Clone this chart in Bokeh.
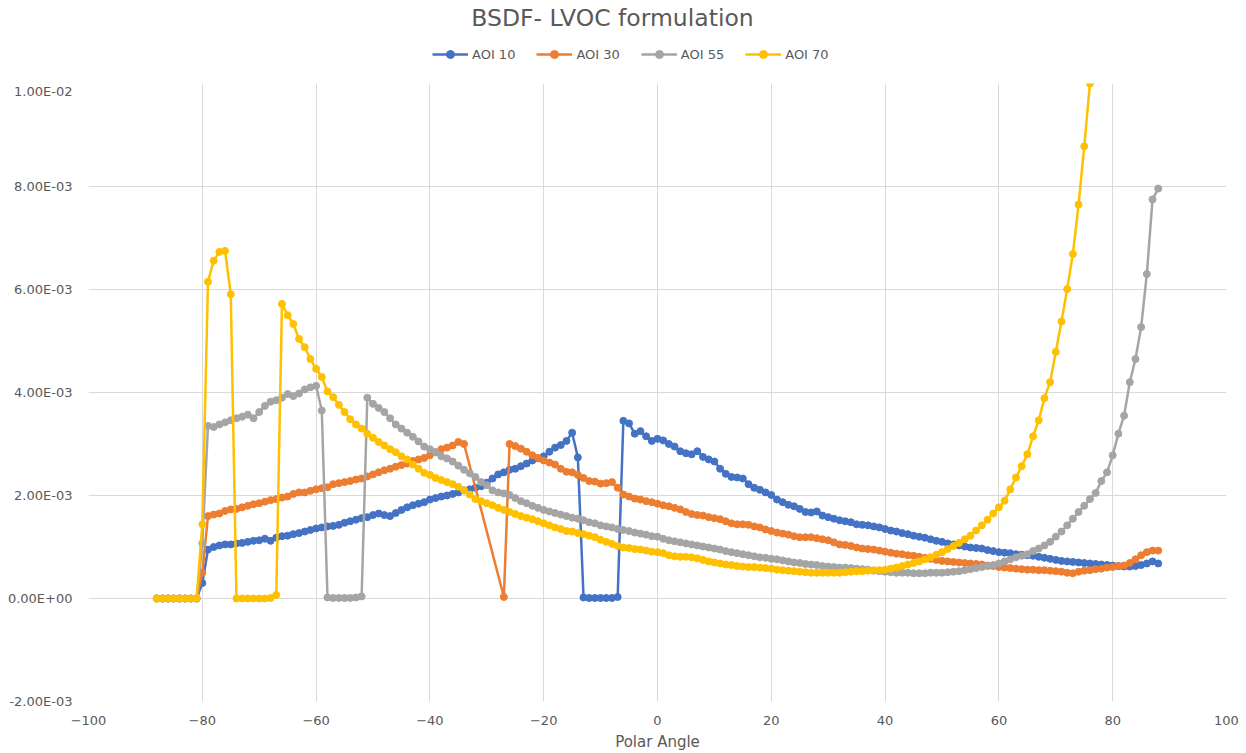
from bokeh.plotting import figure
from bokeh.layouts import column
from bokeh.models import Range1d, FixedTicker, CustomJSTickFormatter, Legend, LegendItem, Label
from bokeh.embed import file_html
from bokeh.resources import INLINE

# ---------------- data (values in units of 1E-03) ----------------
polar_angle = list(range(-88, 89))

aoi_10 = [
    0, 0, 0, 0, 0, 0, 0, 0, 0.30, 0.95,                      # -88..-79
    1.00, 1.03, 1.05, 1.05, 1.07, 1.08, 1.10, 1.12, 1.13, 1.16,  # -78..-69
    1.12, 1.18, 1.21, 1.22, 1.25, 1.27, 1.30, 1.33, 1.36, 1.38,  # -68..-59
    1.40, 1.41, 1.43, 1.47, 1.50, 1.53, 1.56, 1.58, 1.62, 1.65,  # -58..-49
    1.62, 1.60, 1.66, 1.72, 1.77, 1.81, 1.84, 1.87, 1.92, 1.95,  # -48..-39
    1.98, 2.00, 2.03, 2.06, 2.10, 2.12, 2.15, 2.18, 2.25, 2.33,  # -38..-29
    2.41, 2.45, 2.50, 2.52, 2.57, 2.62, 2.68, 2.72, 2.76, 2.85,  # -28..-19
    2.93, 2.98, 3.06, 3.22, 2.74, 0.02, 0.01, 0.01, 0.01, 0.01,  # -18..-9
    0.01, 0.03, 3.45, 3.40, 3.20, 3.25, 3.15, 3.06, 3.10, 3.07,  # -8..1
    3.00, 2.95, 2.86, 2.82, 2.80, 2.86, 2.75, 2.70, 2.66, 2.52,  # 2..11
    2.42, 2.36, 2.35, 2.33, 2.22, 2.15, 2.11, 2.06, 2.01, 1.92,  # 12..21
    1.87, 1.82, 1.79, 1.74, 1.68, 1.67, 1.69, 1.61, 1.58, 1.55,  # 22..31
    1.52, 1.50, 1.48, 1.44, 1.43, 1.42, 1.40, 1.38, 1.35, 1.32,  # 32..41
    1.30, 1.27, 1.25, 1.22, 1.20, 1.18, 1.15, 1.12, 1.10, 1.07,  # 42..51
    1.05, 1.03, 1.01, 0.99, 0.98, 0.97, 0.94, 0.92, 0.90, 0.89,  # 52..61
    0.88, 0.86, 0.85, 0.84, 0.83, 0.81, 0.79, 0.77, 0.75, 0.73,  # 62..71
    0.72, 0.71, 0.70, 0.69, 0.68, 0.67, 0.66, 0.65, 0.64, 0.63,  # 72..81
    0.62, 0.62, 0.63, 0.65, 0.68, 0.72, 0.68,                    # 82..88
]

aoi_30 = [
    0, 0, 0, 0, 0, 0, 0, 0, 0.50, 1.60,
    1.63, 1.65, 1.70, 1.73, 1.74, 1.77, 1.80, 1.83, 1.85, 1.88,
    1.91, 1.93, 1.96, 1.98, 2.03, 2.06, 2.06, 2.09, 2.12, 2.14,
    2.16, 2.22, 2.24, 2.26, 2.28, 2.31, 2.33, 2.37, 2.41, 2.45,
    2.49, 2.52, 2.56, 2.59, 2.62, 2.67, 2.70, 2.73, 2.78, 2.84,
    2.90, 2.93, 2.97, 3.04, 3.00, None, None, None, None, None,
    None, 0.03, 3.00, 2.96, 2.91, 2.85, 2.78, 2.73, 2.68, 2.64,
    2.60, 2.52, 2.46, 2.45, 2.40, 2.34, 2.28, 2.27, 2.23, 2.24,
    2.26, 2.15, 2.02, 1.98, 1.94, 1.92, 1.89, 1.87, 1.84, 1.81,
    1.79, 1.76, 1.73, 1.68, 1.64, 1.62, 1.61, 1.58, 1.56, 1.54,
    1.50, 1.46, 1.44, 1.44, 1.43, 1.40, 1.38, 1.34, 1.31, 1.28,
    1.26, 1.24, 1.21, 1.19, 1.19, 1.19, 1.17, 1.15, 1.13, 1.09,
    1.05, 1.04, 1.02, 0.99, 0.97, 0.96, 0.95, 0.93, 0.91, 0.89,
    0.87, 0.86, 0.84, 0.83, 0.81, 0.79, 0.77, 0.75, 0.73, 0.72,
    0.71, 0.70, 0.69, 0.68, 0.67, 0.66, 0.64, 0.63, 0.61, 0.60,
    0.59, 0.58, 0.57, 0.56, 0.56, 0.55, 0.55, 0.54, 0.53, 0.52,
    0.50, 0.49, 0.52, 0.54, 0.55, 0.57, 0.58, 0.60, 0.61, 0.63,
    0.64, 0.69, 0.76, 0.84, 0.90, 0.93, 0.93,
]

aoi_55 = [
    0, 0, 0, 0, 0, 0, 0, 0, 1.07, 3.35,
    3.33, 3.38, 3.42, 3.46, 3.50, 3.53, 3.57, 3.50, 3.62, 3.74,
    3.82, 3.85, 3.90, 3.97, 3.93, 3.98, 4.06, 4.10, 4.13, 3.65,
    0.02, 0.01, 0.01, 0.01, 0.01, 0.02, 0.04, 3.90, 3.78, 3.70,
    3.62, 3.50, 3.38, 3.30, 3.22, 3.14, 3.05, 2.95, 2.90, 2.84,
    2.76, 2.72, 2.66, 2.58, 2.50, 2.43, 2.36, 2.26, 2.20, 2.10,
    2.06, 2.04, 2.01, 1.95, 1.89, 1.85, 1.80, 1.76, 1.72, 1.69,
    1.66, 1.63, 1.60, 1.57, 1.55, 1.52, 1.48, 1.46, 1.42, 1.40,
    1.38, 1.35, 1.33, 1.31, 1.28, 1.26, 1.24, 1.21, 1.20, 1.16,
    1.13, 1.11, 1.09, 1.07, 1.05, 1.03, 1.01, 0.99, 0.97, 0.95,
    0.92, 0.90, 0.88, 0.86, 0.84, 0.82, 0.80, 0.79, 0.77, 0.76,
    0.74, 0.72, 0.70, 0.69, 0.67, 0.66, 0.65, 0.63, 0.62, 0.61,
    0.60, 0.60, 0.59, 0.58, 0.57, 0.56, 0.54, 0.53, 0.52, 0.51,
    0.50, 0.50, 0.50, 0.49, 0.49, 0.49, 0.50, 0.50, 0.50, 0.51,
    0.52, 0.53, 0.55, 0.57, 0.59, 0.61, 0.63, 0.65, 0.68, 0.72,
    0.76, 0.80, 0.83, 0.86, 0.92, 0.97, 1.03, 1.10, 1.20, 1.30,
    1.42, 1.55, 1.68, 1.80, 1.93, 2.05, 2.28, 2.45, 2.78, 3.20,
    3.55, 4.20, 4.65, 5.27, 6.30, 7.75, 7.96,
]

aoi_70 = [
    0, 0, 0, 0, 0, 0, 0, 0, 1.44, 6.15,
    6.56, 6.73, 6.75, 5.91, 0.00, 0.00, 0.00, 0.00, 0.00, 0.00,
    0.01, 0.07, 5.72, 5.50, 5.33, 5.04, 4.88, 4.65, 4.46, 4.30,
    4.02, 3.91, 3.76, 3.62, 3.48, 3.38, 3.30, 3.20, 3.12, 3.04,
    2.97, 2.90, 2.84, 2.76, 2.70, 2.60, 2.52, 2.44, 2.40, 2.34,
    2.30, 2.26, 2.22, 2.17, 2.10, 2.02, 1.93, 1.89, 1.85, 1.81,
    1.76, 1.72, 1.68, 1.64, 1.60, 1.57, 1.54, 1.50, 1.46, 1.42,
    1.38, 1.35, 1.31, 1.30, 1.27, 1.25, 1.22, 1.19, 1.14, 1.10,
    1.06, 1.02, 0.99, 0.98, 0.96, 0.95, 0.93, 0.91, 0.90, 0.88,
    0.84, 0.82, 0.81, 0.81, 0.80, 0.78, 0.75, 0.72, 0.70, 0.68,
    0.66, 0.65, 0.63, 0.62, 0.61, 0.61, 0.60, 0.59, 0.58, 0.56,
    0.55, 0.54, 0.53, 0.52, 0.51, 0.50, 0.50, 0.50, 0.50, 0.50,
    0.50, 0.51, 0.52, 0.53, 0.53, 0.54, 0.55, 0.55, 0.56, 0.58,
    0.60, 0.63, 0.66, 0.69, 0.72, 0.76, 0.80, 0.85, 0.90, 0.96,
    1.02, 1.08, 1.15, 1.22, 1.32, 1.42, 1.53, 1.65, 1.77, 1.90,
    2.12, 2.35, 2.57, 2.80, 3.15, 3.46, 3.89, 4.20, 4.79, 5.38,
    6.01, 6.69, 7.65, 8.78, 10.0, None, None, None, None, None,
    None, None, None, None, None, None, None,
]

VALUE_UNIT = 1e-3
series_names = ["AOI 10", "AOI 30", "AOI 55", "AOI 70"]
series_values = [aoi_10, aoi_30, aoi_55, aoi_70]
series_colors = ["#4472C4", "#ED7D31", "#A5A5A5", "#FFC000"]

x_ticks = [-100, -80, -60, -40, -20, 0, 20, 40, 60, 80, 100]
y_ticks = [-0.002, 0.0, 0.002, 0.004, 0.006, 0.008, 0.010]
y_tick_labels = ["-2.00E-03", "0.00E+00", "2.00E-03", "4.00E-03", "6.00E-03", "8.00E-03", "1.00E-02"]

title_text = "BSDF- LVOC formulation"
x_title = "Polar Angle"

FONT = "DejaVu Sans"
TXT = "#595959"
W = 1246
HEADER_H = 83
MAIN_H = 753 - HEADER_H
BORDER_L, BORDER_R = 88, 20

series_xy = []
for vals in series_values:
    xs = [a for a, v in zip(polar_angle, vals) if v is not None]
    ys = [v * VALUE_UNIT for v in vals if v is not None]
    series_xy.append((xs, ys))

# ---------------- header (title + legend) ----------------
# its y range lies above all data, so its renderers only feed the legend swatches
hdr = figure(width=W, height=HEADER_H, output_backend="svg", toolbar_location=None, title=None,
             x_range=Range1d(-100, 100), y_range=Range1d(1, 2),
             min_border_left=BORDER_L, min_border_right=BORDER_R, min_border_top=0, min_border_bottom=0)
hdr.axis.visible = False
hdr.grid.visible = False
hdr.outline_line_color = None
hdr.border_fill_color = "white"
hdr.background_fill_color = "white"

hdr.add_layout(Label(x=612 - BORDER_L, y=HEADER_H - 17, x_units="screen", y_units="screen", text=title_text,
                     text_align="center", text_baseline="middle", text_font=FONT,
                     text_font_size="23.5px", text_color=TXT))

items = []
for name, color, (xs, ys) in zip(series_names, series_colors, series_xy):
    l1 = hdr.line(xs, ys, line_color=color, line_width=2.5)
    l2 = hdr.scatter(xs, ys, size=7, fill_color=color, line_color=color)
    items.append(LegendItem(label=name, renderers=[l1, l2]))
legend = Legend(items=items, orientation="horizontal", location=(432 - BORDER_L, HEADER_H - 64),
                glyph_width=36, glyph_height=20, label_height=20, label_standoff=4, spacing=21,
                padding=0, margin=0, border_line_color=None, background_fill_alpha=0,
                label_text_font=FONT, label_text_font_size="13px", label_text_color=TXT)
hdr.add_layout(legend)

# ---------------- main chart ----------------
p = figure(width=W, height=MAIN_H, output_backend="svg", toolbar_location=None, title=None,
           x_range=Range1d(-100, 100), y_range=Range1d(-0.002, 0.010),
           min_border_left=BORDER_L, min_border_right=BORDER_R, min_border_top=0, min_border_bottom=51)
p.outline_line_color = None
p.background_fill_color = "white"
p.border_fill_color = "white"

p.xaxis.ticker = FixedTicker(ticks=x_ticks)
p.yaxis.ticker = FixedTicker(ticks=y_ticks)
p.yaxis.formatter = CustomJSTickFormatter(args=dict(tvals=y_ticks, tlabels=y_tick_labels), code="""
let best = 0, bd = Infinity;
for (let i = 0; i < tvals.length; i++) { const d = Math.abs(tvals[i] - tick); if (d < bd) { bd = d; best = i; } }
return tlabels[best];
""")
for ax in (p.xaxis[0], p.yaxis[0]):
    ax.axis_line_color = None
    ax.major_tick_line_color = None
    ax.minor_tick_line_color = None
    ax.major_label_text_font = FONT
    ax.major_label_text_font_size = "13px"
    ax.major_label_text_color = TXT
p.xaxis.major_label_standoff = 8
p.yaxis.major_label_standoff = 10
p.xaxis.axis_label = x_title
p.xaxis.axis_label_text_font = FONT
p.xaxis.axis_label_text_font_size = "15px"
p.xaxis.axis_label_text_font_style = "normal"
p.xaxis.axis_label_text_color = TXT
p.xaxis.axis_label_standoff = 5

for g in (p.xgrid[0], p.ygrid[0]):
    g.grid_line_color = "#d9d9d9"
    g.grid_line_width = 1

for color, (xs, ys) in zip(series_colors, series_xy):
    p.line(xs, ys, line_color=color, line_width=2.5)
    p.scatter(xs, ys, size=7, fill_color=color, line_color=color)

layout = column(hdr, p, spacing=0)
open("out.html", "w").write(file_html(layout, INLINE))
